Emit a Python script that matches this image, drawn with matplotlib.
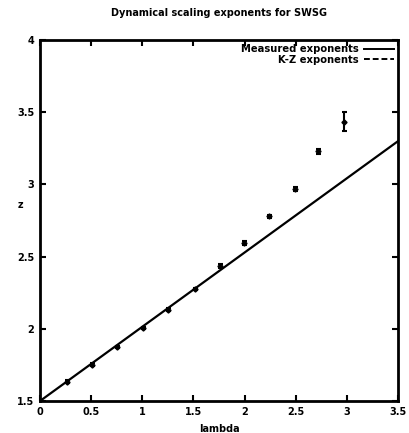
import matplotlib.pyplot as plt
from matplotlib.lines import Line2D
from matplotlib.ticker import MultipleLocator, FormatStrFormatter

# measured exponents
lam = [0.0, 0.264, 0.508, 0.753, 1.007, 1.251, 1.515, 1.760, 1.994, 2.239, 2.493, 2.718, 2.972]
z_meas = [1.50, 1.634, 1.752, 1.876, 2.007, 2.131, 2.276, 2.434, 2.593, 2.779, 2.966, 3.228, 3.434]
z_err = [0.005, 0.008, 0.008, 0.008, 0.008, 0.01, 0.01, 0.012, 0.012, 0.012, 0.015, 0.02, 0.065]

# K-Z prediction line
kz_lam = [0.0, 3.5]
kz_z = [1.5, 3.3]

plt.rcParams['font.family'] = 'DejaVu Sans'
plt.rcParams['font.weight'] = 'bold'

fig = plt.figure(figsize=(4.1, 4.33), dpi=100)
ax = fig.add_axes([0.0976, 0.0739, 0.8734, 0.8337])

ax.plot(kz_lam, kz_z, color='black', lw=1.6)
ax.errorbar(lam, z_meas, yerr=z_err, fmt='D', color='black', ms=2.6,
            elinewidth=1.5, capsize=1.8, capthick=1.5)

ax.set_xlim(0, 3.5)
ax.set_ylim(1.5, 4)
ax.xaxis.set_major_locator(MultipleLocator(0.5))
ax.yaxis.set_major_locator(MultipleLocator(0.5))
ax.xaxis.set_major_formatter(FormatStrFormatter('%g'))
ax.yaxis.set_major_formatter(FormatStrFormatter('%g'))
ax.tick_params(direction='in', top=True, right=True, length=4, width=1.5,
               labelsize=7, pad=4)
for lab in ax.get_xticklabels() + ax.get_yticklabels():
    lab.set_fontweight('bold')
for s in ax.spines.values():
    s.set_linewidth(2.0)

ax.set_title('Dynamical scaling exponents for SWSG', fontsize=7,
             fontweight='bold', pad=17)
ax.set_xlabel('lambda', fontsize=7, fontweight='bold', labelpad=5)
ax.set_ylabel('z', fontsize=7, fontweight='bold', rotation=0)
ax.yaxis.set_label_coords(-0.055, 0.53)

handles = [Line2D([], [], color='black', lw=1.4),
           Line2D([], [], color='black', lw=1.4, ls=(0, (3, 1.5)))]
ax.legend(handles, ['Measured exponents', 'K-Z exponents'], loc='upper right',
          frameon=False, markerfirst=False, handlelength=3.0,
          labelspacing=0.05, borderaxespad=0.1, handletextpad=0.5,
          borderpad=0.3, prop={'weight': 'bold', 'size': 7.2})

fig.savefig('out.png', dpi=100)
